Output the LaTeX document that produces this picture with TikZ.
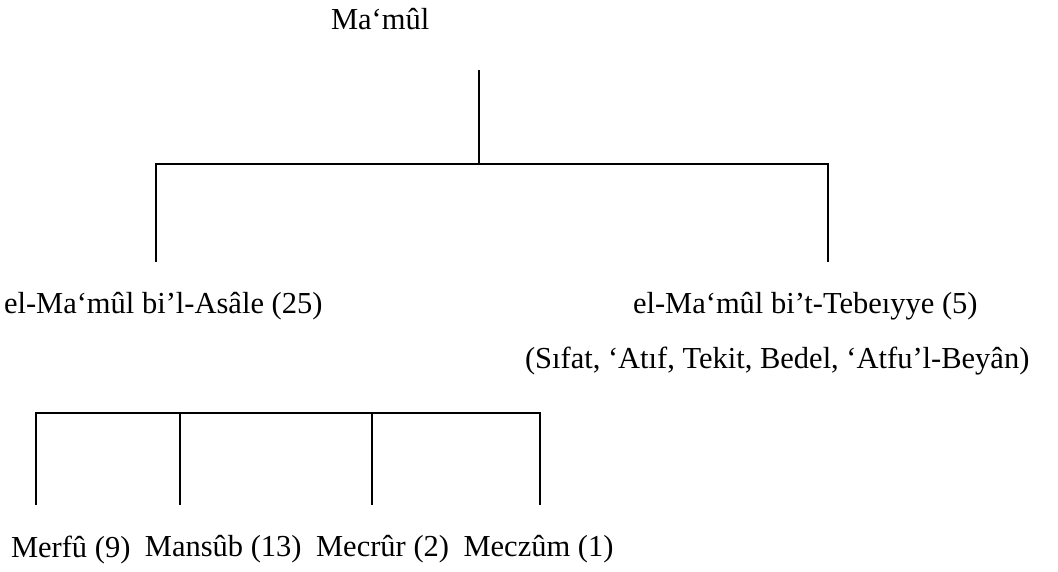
\documentclass[tikz,border=0pt]{standalone}
\usepackage{fontspec}
\setmainfont{Liberation Serif}
\usetikzlibrary{positioning}

\begin{document}
\begin{tikzpicture}[x=0.4pt,y=-0.4pt,thick,
                    label node/.style={inner sep=0pt,anchor=base west,font=\fontsize{12.2}{15}\selectfont}]
  \useasboundingbox (0,0) rectangle (1058,572);

  \node[label node] (root) at (330,30) {Ma‘mûl};
  \node[label node] (asale) at (3,313) {el-Ma‘mûl bi’l-Asâle (25)};
  \node[label node] (tebeiyye) at (632,313) {el-Ma‘mûl bi’t-Tebeıyye (5)};
  \node[label node] (tabi) at (524,368) {(Sıfat, ‘Atıf, Tekit, Bedel, ‘Atfu’l-Beyân)};

  \node[label node] (merfu) at (10,557) {Merfû (9)};
  \node[label node] (mansub) [right=5pt of merfu] {Mansûb (13)};
  \node[label node] (mecrur) [right=5pt of mansub] {Mecrûr (2)};
  \node[label node] (meczum) [right=5pt of mecrur] {Meczûm (1)};

  \coordinate (stem) at (479,70);
  \coordinate (fork) at (479,164);
  \coordinate (fork l) at (156,164);
  \coordinate (fork r) at (828,164);
  \coordinate (asale up) at (156,262);
  \coordinate (tebeiyye up) at (828,262);

  \coordinate (b1) at (36,413);
  \coordinate (b2) at (180,413);
  \coordinate (b3) at (372,413);
  \coordinate (b4) at (540,413);
  \coordinate (merfu up) at (36,505);
  \coordinate (mansub up) at (180,505);
  \coordinate (mecrur up) at (372,505);
  \coordinate (meczum up) at (540,505);

  \draw (stem) -- (fork);
  \draw (asale up) -- (fork l) -- (fork r) -- (tebeiyye up);

  \draw (merfu up) -- (b1) -- (b4) -- (meczum up);
  \draw (b2) -- (mansub up);
  \draw (b3) -- (mecrur up);
\end{tikzpicture}
\end{document}
